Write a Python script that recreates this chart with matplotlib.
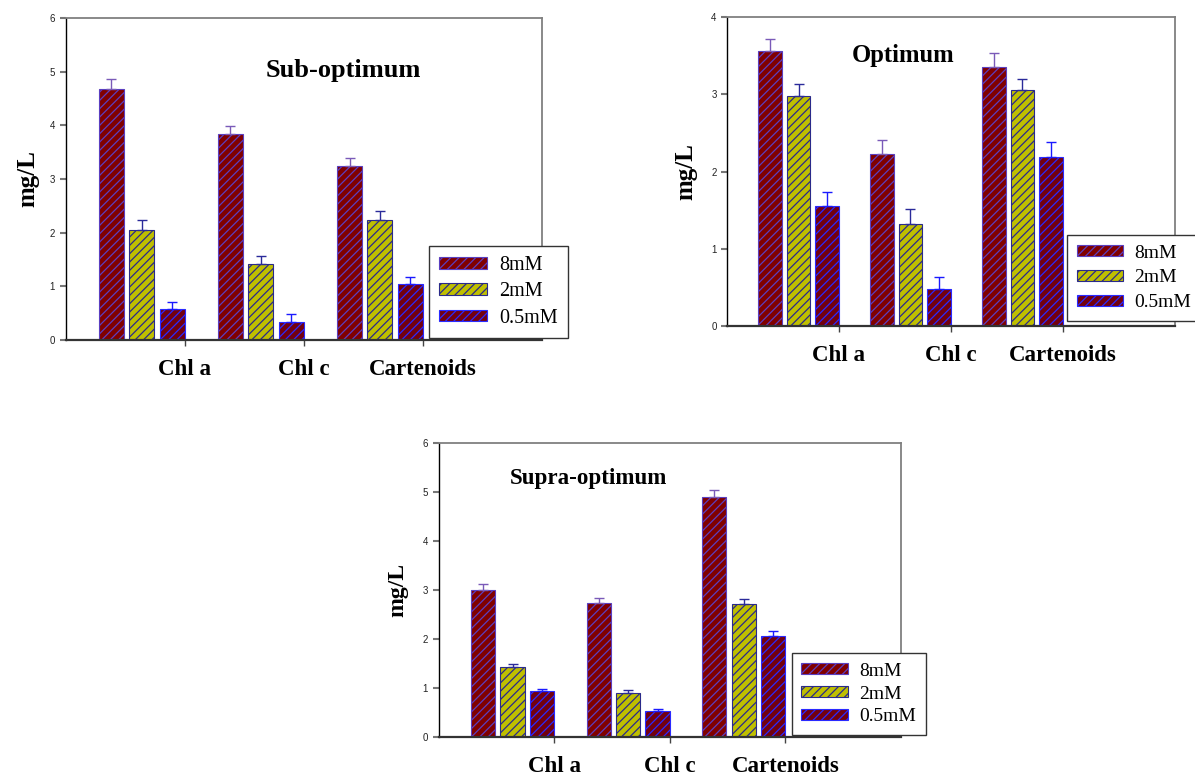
import numpy as np
import matplotlib
matplotlib.use("Agg")
import matplotlib.pyplot as plt

plt.rcParams['hatch.linewidth'] = 0.9

categories = ["Chl a", "Chl c", "Cartenoids"]
series = ["8mM", "2mM", "0.5mM"]

# Sub-optimum light
sub_8 = [4.68, 3.83, 3.25]
sub_2 = [2.05, 1.42, 2.24]
sub_05 = [0.57, 0.335, 1.04]
sub_err_8 = [0.18, 0.15, 0.14]
sub_err_2 = [0.18, 0.15, 0.16]
sub_err_05 = [0.13, 0.145, 0.13]

# Optimum light
opt_8 = [3.56, 2.23, 3.35]
opt_2 = [2.98, 1.32, 3.05]
opt_05 = [1.55, 0.48, 2.19]
opt_err_8 = [0.15, 0.18, 0.18]
opt_err_2 = [0.15, 0.19, 0.15]
opt_err_05 = [0.18, 0.15, 0.19]

# Supra-optimum light
sup_8 = [2.99, 2.74, 4.90]
sup_2 = [1.435, 0.905, 2.71]
sup_05 = [0.945, 0.53, 2.07]
sup_err_8 = [0.13, 0.10, 0.15]
sup_err_2 = [0.045, 0.055, 0.11]
sup_err_05 = [0.035, 0.04, 0.09]

face = ["#800000", "#bfbf00", "#720010"]
edge = ["#5b3fc0", "#2a2a8a", "#2a2aff"]
errc = ["#7a5ab8", "#2a2a9a", "#1a1aff"]
offsets = [-0.615, -0.36, -0.105]
width = 0.21

W, H = 1195, 777
serif = "Liberation Serif"
sans = "Liberation Sans"


def draw_panel(fig, box, means, errs, ymax, title, title_xy, title_size,
               cat_size, leg_xy, leg_size, leg_space, ylab_size, ylab_dx):
    l, t, r, b = box
    ax = fig.add_axes([l / W, 1 - b / H, (r - l) / W, (b - t) / H])
    x = np.arange(1, len(categories) + 1)
    for i in range(3):
        ax.bar(x + offsets[i], means[i], width, color=face[i],
               edgecolor=edge[i], linewidth=0.8, hatch="////",
               label=series[i], zorder=2)
        ax.errorbar(x + offsets[i], means[i],
                    yerr=[np.zeros(len(x)), errs[i]], fmt="none",
                    ecolor=errc[i], elinewidth=1.0, capsize=3.6,
                    capthick=1.0, zorder=3)
    ax.set_xlim(0, 4)
    ax.set_ylim(0, ymax)
    ax.set_yticks(np.arange(0, ymax + 1))
    ax.set_xticks(x)
    ax.set_xticklabels(categories, fontfamily=serif, fontweight="bold",
                       fontsize=cat_size)
    ax.tick_params(axis="x", length=4, width=1, color="#444444", pad=10)
    ax.tick_params(axis="y", length=4.5, width=1.5, color="#777777",
                   labelsize=7, labelcolor="#222222", pad=3)
    for lbl in ax.get_yticklabels():
        lbl.set_fontfamily(sans)
    ax.spines["left"].set_color("black")
    ax.spines["left"].set_linewidth(1.0)
    ax.spines["bottom"].set_color("#333333")
    ax.spines["bottom"].set_linewidth(1.6)
    for s in ("top", "right"):
        ax.spines[s].set_color("#808080")
        ax.spines[s].set_linewidth(1.3)
    ax.set_ylabel("mg/L", fontfamily=serif, fontweight="bold",
                  fontsize=ylab_size, va="center")
    ax.yaxis.set_label_coords(-ylab_dx / (r - l), 0.5)
    ax.text(title_xy[0], title_xy[1], title, fontfamily=serif,
            fontweight="bold", fontsize=title_size, ha="center",
            va="center")
    leg = ax.legend(loc="upper left",
                    bbox_to_anchor=(leg_xy[0] / W, 1 - leg_xy[1] / H),
                    bbox_transform=fig.transFigure,
                    prop={"family": serif, "size": leg_size},
                    fancybox=False, edgecolor="#333333", framealpha=1,
                    handlelength=2.4, handleheight=0.52,
                    handletextpad=0.57, labelspacing=leg_space,
                    borderpad=0.5, borderaxespad=0)
    leg.get_frame().set_linewidth(1.0)
    leg.set_zorder(5)
    return ax


fig = plt.figure(figsize=(W / 100, H / 100), dpi=100)

draw_panel(fig, (65.5, 18, 542, 340),
           [sub_8, sub_2, sub_05], [sub_err_8, sub_err_2, sub_err_05],
           6, "Sub-optimum", (2.334, 5.03), 19, 16.5,
           (429, 246), 14.5, 0.36, 18, 38)
draw_panel(fig, (727, 17, 1174.5, 326),
           [opt_8, opt_2, opt_05], [opt_err_8, opt_err_2, opt_err_05],
           4, "Optimum", (1.571, 3.50), 17.7, 16.5,
           (1067, 235), 14, 0.4, 18, 41)
draw_panel(fig, (438.5, 443, 901, 737),
           [sup_8, sup_2, sup_05], [sup_err_8, sup_err_2, sup_err_05],
           6, "Supra-optimum", (1.30, 5.27), 16.6, 16.5,
           (791.5, 653), 14, 0.3, 17, 41)

fig.savefig("out.png", dpi=100)
